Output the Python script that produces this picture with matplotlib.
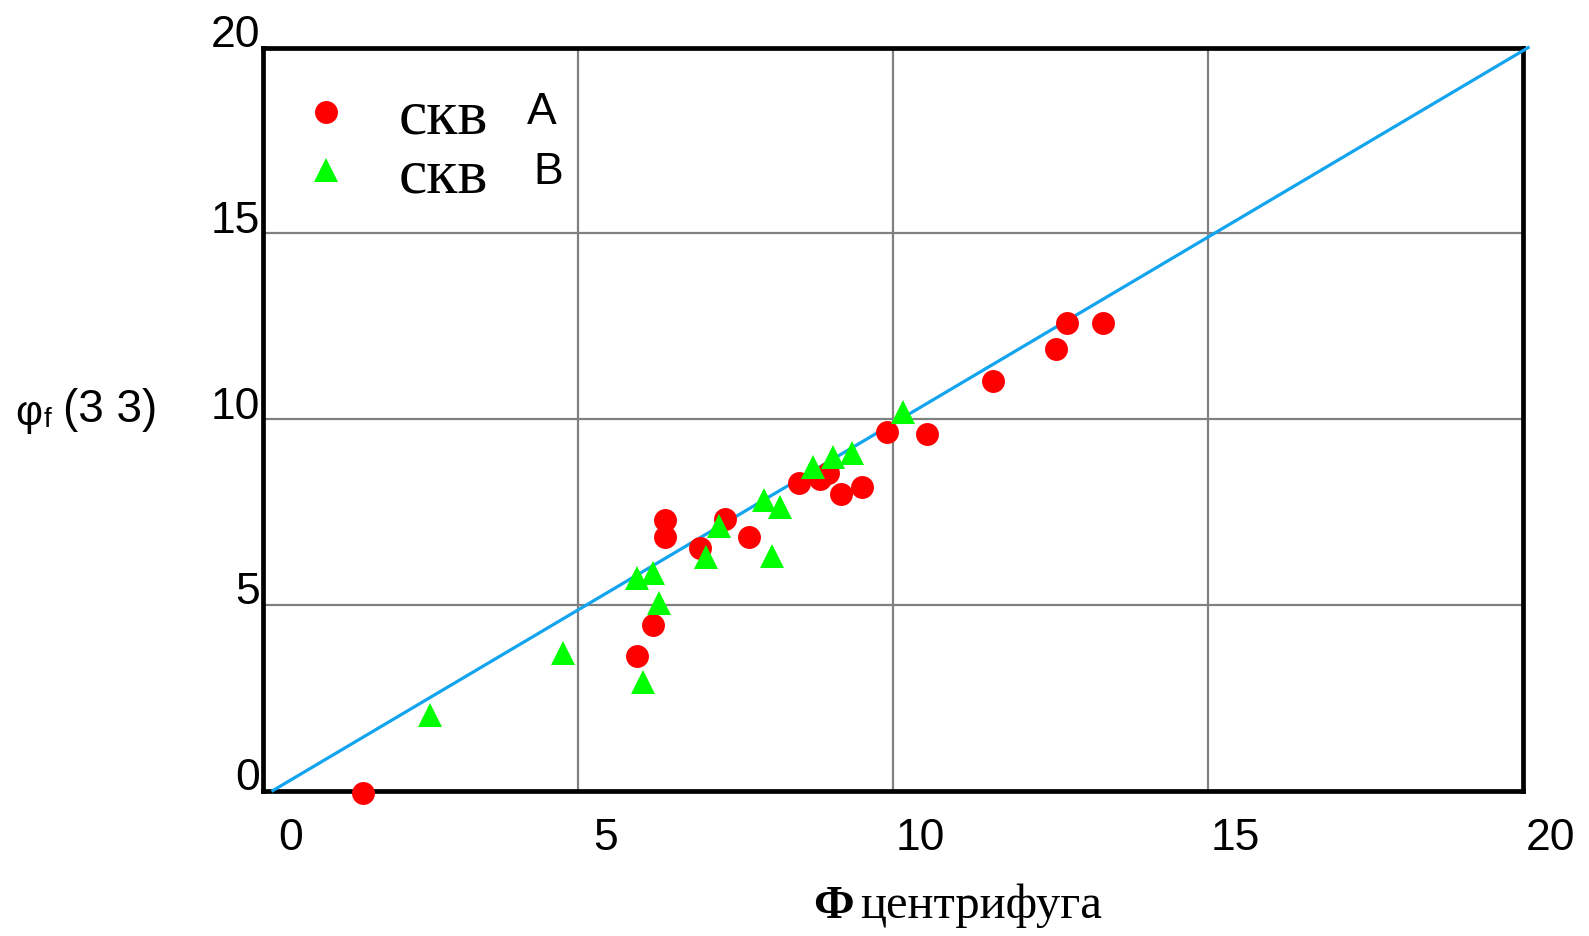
import matplotlib.pyplot as plt
from matplotlib.transforms import ScaledTranslation

# скв A
xa = [1.58, 5.93, 6.18, 6.38, 6.38, 6.93, 7.33, 7.71, 8.50, 8.84, 8.96,
      9.17, 9.50, 9.90, 10.53, 11.58, 12.58, 12.76, 13.33]
ya = [-0.07, 3.62, 4.46, 7.28, 6.82, 6.53, 7.31, 6.82, 8.28, 8.38, 8.55,
      7.98, 8.17, 9.65, 9.60, 11.02, 11.88, 12.58, 12.58]

# скв B
xb = [2.64, 4.76, 6.03, 5.93, 6.18, 6.28, 7.03, 7.23, 7.95, 8.20, 8.07,
      8.72, 9.04, 9.34, 10.15]
yb = [2.03, 3.70, 2.92, 5.72, 5.85, 5.05, 6.29, 7.12, 7.82, 7.63, 6.31,
      8.71, 8.98, 9.09, 10.19]

# линия 1:1
line_x = [0.15, 20.08]
line_y = [0.0, 20.0]

ticks = [0, 5, 10, 15, 20]

sans = 'Liberation Sans'
serif = 'Liberation Serif'

fig = plt.figure(figsize=(15.89, 9.36), dpi=100)
ax = fig.add_axes([0.1658, 0.1554, 0.7927, 0.7937])
ax.set_xlim(0, 20)
ax.set_ylim(0, 20)

ax.grid(True, color='#808080', linewidth=1.6)
ax.set_axisbelow(True)
for sp in ax.spines.values():
    sp.set_linewidth(3.4)
    sp.set_color('black')

ax.plot(line_x, line_y, color='#12a4ee', linewidth=2.3, clip_on=False, zorder=3)
ax.plot(xa, ya, 'o', color='#ff0000', markersize=16.5, markeredgewidth=0,
        clip_on=False, zorder=4, label='скв')
ax.plot(xb, yb, '^', color='#00ff00', markersize=17, markeredgewidth=0,
        clip_on=False, zorder=5, label='скв')

# подписи делений сдвинуты вправо/вверх от линий сетки
ax.set_xticks(ticks)
ax.set_yticks(ticks)
ax.tick_params(length=0, labelbottom=False, labelleft=False)
px = 1 / fig.dpi
for t in ticks:
    ax.text(t, 0, str(t), fontsize=32, family=sans, ha='center', va='center',
            transform=ax.get_xaxis_transform()
            + ScaledTranslation(27 * px, -48 * px, fig.dpi_scale_trans))
    ax.text(0, t, str(t), fontsize=32, family=sans, ha='right', va='center',
            transform=ax.get_yaxis_transform()
            + ScaledTranslation(-3 * px, 12 * px, fig.dpi_scale_trans))

leg = ax.legend(loc='upper left', bbox_to_anchor=(0.0344, 0.944), frameon=False,
                prop={'family': serif, 'size': 46}, handletextpad=0.83,
                labelspacing=0.0, handlelength=0.6, borderpad=0,
                borderaxespad=0)
ax.text(0.209, 0.913, 'A', transform=ax.transAxes, fontsize=32, family=sans,
        ha='left', va='center')
ax.text(0.214, 0.832, 'B', transform=ax.transAxes, fontsize=32, family=sans,
        ha='left', va='center')

# подпись оси Y: φf(33)
fig.text(0.0094, 0.546, 'φ', fontsize=30, family=sans, va='baseline')
fig.text(0.0272, 0.544, 'f', fontsize=20, family=sans, va='baseline')
fig.text(0.0395, 0.549, '(3 3)', fontsize=33, family=sans, va='baseline')

# подпись оси X
fig.text(0.5115, 0.0192, 'Ф', fontsize=34, family=serif, fontweight='bold', va='baseline')
fig.text(0.5412, 0.0192, 'центрифуга', fontsize=35, family=serif, va='baseline')

fig.savefig('out.png', dpi=100)
